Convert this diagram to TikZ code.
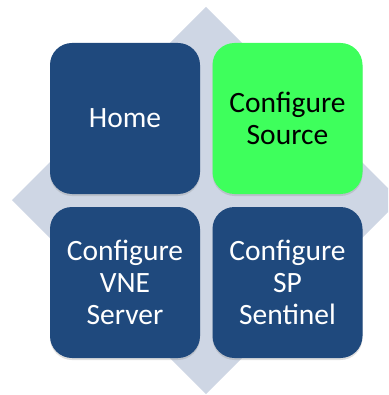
\documentclass[tikz,border=0pt]{standalone}
\usepackage{fontspec}
\setmainfont{Carlito}
\usetikzlibrary{shadows}

\definecolor{tileblue}{HTML}{1F497D}
\definecolor{tilegreen}{HTML}{3EFF5C}
\definecolor{diamondgrey}{HTML}{CED6E4}

\tikzset{
  tile/.style={draw=none, fill=tileblue, text=white, rounded corners=22pt,
    minimum width=150pt, minimum height=151pt, align=center,
    font=\fontsize{29.5}{32}\selectfont,
    drop shadow={shadow xshift=0pt, shadow yshift=-2pt, opacity=0.25}},
  activetile/.style={tile, fill=tilegreen, text=black}
}

\begin{document}
\begin{tikzpicture}[x=1pt, y=-1pt]
			\useasboundingbox (0,0) rectangle (388,395);
			\clip (0,0) rectangle (388,395);
			% background diamond
			\fill[diamondgrey] (206,7) -- (400,200) -- (206,394) -- (12,200) -- cycle;

			\node[tile] (home) at (125,118.5) {Home};
			\node[activetile] (source) at (287.5,118.5) {Configure\\Source};
			\node[tile] (vne) at (125,282.5) {Configure\\VNE\\Server};
			\node[tile] (sentinel) at (287.5,282.5) {Configure\\SP\\Sentinel};
		\end{tikzpicture}
\end{document}
